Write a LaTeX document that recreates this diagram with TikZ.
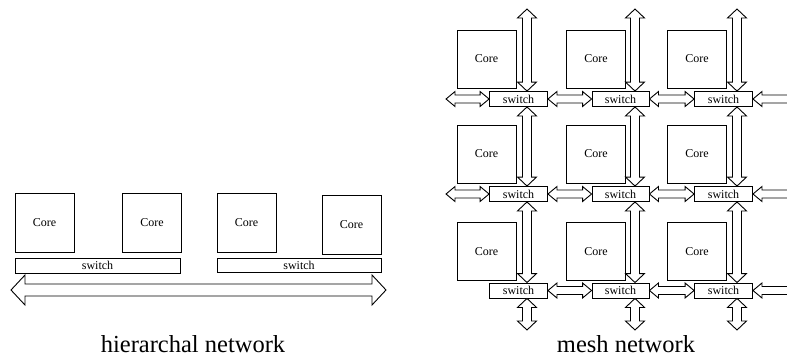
\documentclass[tikz,border=0pt]{standalone}
\usepackage{fontspec}
\setmainfont{Liberation Serif}
\usetikzlibrary{calc}

\tikzset{
  x=1pt, y=-1pt,
  core/.style={draw, fill=white, inner sep=0pt, minimum width=59pt, minimum height=58pt,
               font=\fontsize{12}{14}\selectfont},
  swbox/.style={draw, fill=white, inner sep=0pt, minimum width=58pt, minimum height=15pt,
               font=\fontsize{12}{14}\selectfont},
  caption/.style={anchor=base, font=\fontsize{24.5}{28}\selectfont},
  head len/.store in=\ahl, shaft half/.store in=\asw, head half/.store in=\ahw,
  head len=9, shaft half=4.5, head half=9,
  % outlined two-headed block arrow, left to right
  harrow/.style={draw, fill=white, to path={
    (\tikztostart) -- ++(\ahl,\ahw) -- ++(0,\asw-\ahw)
    -- ($(\tikztotarget)+(-\ahl,\asw)$) -- ++(0,\ahw-\asw) -- (\tikztotarget)
    -- ++(-\ahl,-\ahw) -- ++(0,\ahw-\asw)
    -- ($(\tikztostart)+(\ahl,-\asw)$) -- ++(0,\asw-\ahw) -- cycle}},
  % outlined two-headed block arrow, top to bottom
  varrow/.style={draw, fill=white, to path={
    (\tikztostart) -- ++(\ahw,\ahl) -- ++(\asw-\ahw,0)
    -- ($(\tikztotarget)+(\asw,-\ahl)$) -- ++(\ahw-\asw,0) -- (\tikztotarget)
    -- ++(-\ahw,-\ahl) -- ++(\ahw-\asw,0)
    -- ($(\tikztostart)+(-\asw,\ahl)$) -- ++(\asw-\ahw,0) -- cycle}},
}

\begin{document}
\begin{tikzpicture}[line width=0.9pt]
\useasboundingbox (0,0) rectangle (787,356);
\clip (0,0) rectangle (787,356);

% ---------- hierarchical network ----------
\node[core, minimum height=59pt] (hc1) at (44.5,222.5) {Core};
\node[core, minimum height=59pt] (hc2) at (152,222.5) {Core};
\node[core, minimum height=59pt] (hc3) at (246.5,222.5) {Core};
\node[core, minimum height=59pt] (hc4) at (351.5,224.5) {Core};
\node[swbox, minimum width=165pt] (hs1) at (97.5,265.5) {switch};
\node[swbox, minimum width=164pt, minimum height=14pt] (hs2) at (299,265) {switch};
\coordinate (busL) at (11,290);
\coordinate (busR) at (386,290);
\draw[harrow, head len=14, shaft half=6, head half=15] (busL) to (busR);
\node[caption] (hcap) at (193,352) {hierarchal network};

% ---------- mesh network ----------
% arrow columns
\coordinate (a1) at (527,0);
\coordinate (a2) at (635,0);
\coordinate (a3) at (737,0);

\foreach \r/\cy/\sy in {1/59/99, 2/154/194, 3/251.5/290.5}{
  \node[core] (c\r1) at (486.5,\cy) {Core};
  \node[core] (c\r2) at (596,\cy) {Core};
  \node[core] (c\r3) at (697,\cy) {Core};
  \node[swbox] (s\r1) at (518.5,\sy) {switch};
  \node[swbox, minimum width=57pt] (s\r2) at (620.5,\sy) {switch};
  \node[swbox] (s\r3) at (723.5,\sy) {switch};
}

% free ends of the edge links
\coordinate (t0) at (0,9);
\coordinate (b0) at (0,330);
\coordinate (l1) at (446,99);
\coordinate (l2) at (446,194);
\coordinate (r1) at (810,99);
\coordinate (r2) at (810,194);
\coordinate (r3) at (810,290.5);

\begin{scope}[head len=9, shaft half=4, head half=7.5]
  \draw[harrow] (l1) to (s11.west);
  \draw[harrow] (l2) to (s21.west);
  \foreach \r in {1,2,3}{
    \draw[harrow] (s\r1.east) to (s\r2.west);
    \draw[harrow] (s\r2.east) to (s\r3.west);
    \draw[harrow] (s\r3.east) to (r\r);
  }
\end{scope}

\begin{scope}[head len=9, shaft half=4.5, head half=9.5]
  \foreach \c in {1,2,3}{
    \draw[varrow] (t0 -| a\c) to (s1\c.north -| a\c);
    \draw[varrow] (s1\c.south -| a\c) to (s2\c.north -| a\c);
    \draw[varrow] (s2\c.south -| a\c) to (s3\c.north -| a\c);
    \draw[varrow] (s3\c.south -| a\c) to (b0 -| a\c);
  }
\end{scope}

\node[caption] (mcap) at (626,352) {mesh network};
\end{tikzpicture}
\end{document}
